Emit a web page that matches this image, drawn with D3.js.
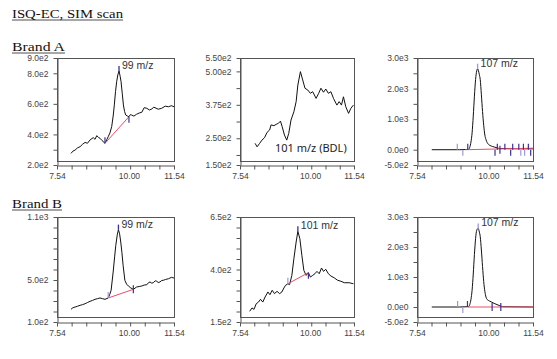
<!DOCTYPE html>
<meta charset="utf-8">
<script src="https://d3js.org/d3.v7.min.js"></script>
<style>
  body { margin: 0; background: #fff; }
  text { font-family: "Liberation Sans", Arial, sans-serif; }
</style>
<div id="chart"></div>
<script>
// shared x axis (retention time, min)
var xTicks = [7.54, 8.04, 8.54, 9.04, 9.54, 10.04, 10.54, 11.04, 11.54];
var xLabelVals = [7.54, 10.00, 11.54];
var xLabels = ["7.54", "10.00", "11.54"];

// Brand A, 99 m/z
var timeA1 = [8.02,8.08,8.16,8.24,8.33,8.41,8.50,8.58,8.67,8.78,8.84,8.90,8.96,9.01,9.08,9.18,9.24,9.29,9.35,9.41,9.46,9.50,9.54,9.58,9.62,9.66,9.70,9.73,9.77,9.81,9.85,9.89,9.95,10.00,10.05,10.09,10.17,10.26,10.35,10.44,10.52,10.61,10.70,10.78,10.84,10.89,11.00,11.12,11.24,11.35,11.45,11.54];
var sigA1 = [276,290,298,312,320,335,348,342,364,379,368,392,380,375,360,342,365,385,410,451,520,593,680,745,790,815,780,745,670,593,550,527,520,516,530,527,520,532,540,545,575,571,560,566,578,575,565,571,585,581,588,581];
var baseA1 = [[9.18, 342], [10.00, 516]];
var marksA1 = [[9.18, 342, "up", "d"], [10.00, 516, "down", "d"]];

// Brand A, 101 m/z (BDL)
var timeA2 = [8.07,8.14,8.23,8.31,8.40,8.49,8.58,8.63,8.73,8.81,8.89,8.96,9.02,9.10,9.18,9.25,9.33,9.43,9.51,9.57,9.66,9.74,9.82,9.92,10.01,10.09,10.21,10.30,10.38,10.47,10.55,10.64,10.73,10.82,10.94,11.02,11.10,11.17,11.25,11.35,11.43,11.52];
var sigA2 = [231,218,231,243,252,272,281,300,297,302,306,314,293,262,243,268,318,349,387,449,499,468,437,430,418,424,399,418,437,422,434,418,424,399,374,387,374,405,368,343,362,374];

// Brand A, 107 m/z
var timeA3 = [8.05,9.00,9.31,9.36,9.40,9.44,9.48,9.52,9.56,9.60,9.63,9.66,9.69,9.72,9.76,9.80,9.84,9.88,9.92,9.96,10.00,10.10,10.20,10.30,10.40,11.00,11.54];
var sigA3 = [0,0,10,80,250,550,1100,1750,2300,2580,2650,2580,2450,2300,1800,1250,800,480,330,230,180,120,90,60,40,30,30];
var baseA3 = [[9.20, 0], [11.54, 50]];
var marksA3 = [[8.93,0,"up","l"],[9.12,0,"down","l"],[9.29,0,"up","d"],[10.23,0,"down","d"],[10.31,0,"up","d"],[10.40,0,"cross","d"],[10.57,0,"up","d"],[10.77,0,"down","d"],[10.84,0,"up","d"],[11.05,0,"up","d"],[11.12,0,"down","l"],[11.21,0,"up","d"],[11.25,0,"down","l"],[11.38,0,"up","d"],[11.46,0,"down","d"]];

// Brand B, 99 m/z
var timeB1 = [8.02,8.08,8.16,8.24,8.33,8.41,8.50,8.58,8.67,8.75,8.84,8.92,9.01,9.10,9.18,9.29,9.34,9.39,9.46,9.51,9.55,9.60,9.64,9.68,9.72,9.76,9.80,9.86,9.92,9.98,10.06,10.15,10.26,10.35,10.44,10.52,10.61,10.67,10.72,10.78,10.83,10.90,10.95,11.00,11.06,11.12,11.17,11.25,11.35,11.45,11.54];
var sigB1 = [221,235,243,250,259,265,274,285,297,305,316,322,329,322,316,329,360,402,576,720,830,930,980,940,862,760,640,497,460,443,425,411,433,438,443,452,455,475,481,470,474,492,488,476,481,495,497,505,512,525,519];
var baseB1 = [[9.29, 329], [10.15, 411]];
var marksB1 = [[9.29, 329, "up", "l"], [10.15, 411, "cross", "d"]];

// Brand B, 101 m/z
var timeB2 = [7.88,7.96,8.03,8.11,8.19,8.26,8.34,8.42,8.52,8.59,8.67,8.75,8.84,8.93,9.01,9.08,9.14,9.22,9.28,9.36,9.43,9.51,9.57,9.64,9.71,9.78,9.86,9.94,10.01,10.09,10.17,10.24,10.32,10.40,10.47,10.55,10.64,10.73,10.85,10.96,11.08,11.20,11.37,11.52];
var sigB2 = [201,217,210,237,245,258,245,269,293,280,301,285,296,285,293,312,325,332,328,372,451,531,582,547,468,396,372,385,364,372,380,391,380,407,391,401,380,369,360,349,344,337,337,332];
var baseB2 = [[9.22, 332], [9.94, 385]];
var marksB2 = [[9.22, 332, "up", "l"], [9.94, 385, "down", "d"]];

// Brand B, 107 m/z
var timeB3 = [8.05,9.00,9.31,9.36,9.40,9.44,9.48,9.52,9.56,9.60,9.65,9.69,9.72,9.76,9.80,9.84,9.88,9.92,9.96,10.00,10.10,10.20,10.30,10.40,10.50,11.54];
var sigB3 = [0,0,10,80,250,560,1100,1750,2280,2560,2620,2500,2350,1900,1350,850,520,330,250,220,170,120,80,40,10,0];
var baseB3 = [[9.30, 0], [11.54, 0]];
var marksB3 = [[8.94,0,"up","l"],[9.12,0,"down","l"],[9.28,0,"up","d"],[10.13,0,"cross","d"],[10.43,0,"cross","d"]];

var panels = [
  {x0: 57, x1: 174, top: 58, fb: 161, ay: 165, dom: [200, 900], ticks: [200,300,400,500,600,700,800,900],
   labs: {900:"9.0e2", 800:"8.0e2", 600:"6.0e2", 400:"4.0e2", 200:"2.0e2"},
   t: timeA1, v: sigA1, base: baseA1, marks: marksA1, apex: [9.66, 815], apexCol: "d", name: "99 m/z"},
  {x0: 240, x1: 354, top: 58, fb: 161, ay: 165, dom: [150, 550], ticks: [150,187.5,250,312.5,375,437.5,500,550],
   labs: {550:"5.50e2", 500:"5.00e2", 375:"3.75e2", 250:"2.50e2", 150:"1.50e2"},
   t: timeA2, v: sigA2, base: null, marks: [], apex: null, bdl: "101 m/z (BDL)"},
  {x0: 417, x1: 533, top: 58, fb: 161, ay: 165, dom: [-500, 3000], ticks: [-500,0,500,1000,1500,2000,2500,3000],
   labs: {3000:"3.0e3", 2000:"2.0e3", 1000:"1.0e3", 0:"0.0e0", "-500":"-5.0e2"},
   t: timeA3, v: sigA3, base: baseA3, marks: marksA3, apex: [9.63, 2650], apexCol: "l", name: "107 m/z", smooth: true},
  {x0: 57, x1: 174, top: 217, fb: 317, ay: 322, dom: [100, 1100], ticks: [100,200,300,400,500,600,700,800,900,1000,1100],
   labs: {1100:"1.1e3", 500:"5.0e2", 100:"1.0e2"},
   t: timeB1, v: sigB1, base: baseB1, marks: marksB1, apex: [9.64, 980], apexCol: "d", name: "99 m/z"},
  {x0: 240, x1: 354, top: 217, fb: 317, ay: 322, dom: [150, 650], ticks: [150,200,250,300,350,400,450,500,550,600,650],
   labs: {650:"6.5e2", 400:"4.0e2", 150:"1.5e2"},
   t: timeB2, v: sigB2, base: baseB2, marks: marksB2, apex: [9.57, 582], apexCol: "d", name: "101 m/z"},
  {x0: 417, x1: 533, top: 217, fb: 317, ay: 322, dom: [-500, 3000], ticks: [-500,0,500,1000,1500,2000,2500,3000],
   labs: {3000:"3.0e3", 2000:"2.0e3", 1000:"1.0e3", 0:"0.0e0", "-500":"-5.0e2"},
   t: timeB3, v: sigB3, base: baseB3, marks: marksB3, apex: [9.65, 2620], apexCol: "l", name: "107 m/z", smooth: true}
];

var markCol = {d: "#3a2f9c", l: "#9c98e0"};

var svg = d3.select("#chart").append("svg")
  .attr("width", 557).attr("height", 359);

// headings
function heading(txt, x, y, len, size) {
  svg.append("text").attr("x", x).attr("y", y)
    .attr("textLength", len).attr("lengthAdjust", "spacingAndGlyphs")
    .style("font-family", "'Liberation Serif', 'Times New Roman', serif")
    .style("font-size", size + "px").attr("fill", "#111").text(txt);
  svg.append("line").attr("x1", x).attr("x2", x + len)
    .attr("y1", y + 2).attr("y2", y + 2).attr("stroke", "#222").attr("stroke-width", 0.8);
}
heading("ISQ-EC, SIM scan", 12, 18, 111, 12);
heading("Brand A", 12, 51, 53, 12.5);
heading("Brand B", 12, 208, 50, 12.5);

panels.forEach(function(p) {
  var x = d3.scaleLinear().domain([7.54, 11.54]).range([p.x0, p.x1]);
  var y = d3.scaleLinear().domain(p.dom).range([p.ay, p.top]);
  var g = svg.append("g");

  // frame
  g.append("rect").attr("x", p.x0 + 0.5).attr("y", p.top + 0.5)
    .attr("width", p.x1 - p.x0).attr("height", p.fb - p.top)
    .attr("fill", "none").attr("stroke", "#555").attr("stroke-width", 1);

  // axes
  var xa = g.append("g").attr("transform", "translate(0," + (p.ay + 0.5) + ")")
    .call(d3.axisBottom(x).tickValues(xTicks).tickSize(4).tickSizeOuter(0).tickFormat(""));
  g.append("g").attr("transform", "translate(0," + (p.ay + 0.5) + ")")
    .call(d3.axisBottom(x).tickValues(xLabelVals).tickSize(0).tickPadding(7)
      .tickFormat(function(d, i) { return xLabels[i]; }))
    .call(function(s) { s.select(".domain").remove(); });
  var ya = g.append("g").attr("transform", "translate(" + (p.x0 + 0.5) + ",0)")
    .call(d3.axisLeft(y).tickValues(p.ticks).tickSize(4).tickSizeOuter(0).tickPadding(5)
      .tickFormat(function(d) { return p.labs[d] || ""; }));
  [xa, ya].forEach(function(a) {
    a.selectAll("path,line").attr("stroke", "#555");
  });
  g.selectAll(".tick text").attr("fill", "#444").style("font-size", "8.5px");

  // chromatogram trace
  var line = d3.line()
    .x(function(d, i) { return x(p.t[i]); })
    .y(function(d) { return y(d); })
    .curve(p.smooth ? d3.curveMonotoneX : d3.curveLinear);
  g.append("path").datum(p.v).attr("d", line)
    .attr("fill", "none").attr("stroke", "#111").attr("stroke-width", 1);

  // peak baseline
  if (p.base) {
    g.append("line")
      .attr("x1", x(p.base[0][0])).attr("y1", y(p.base[0][1]))
      .attr("x2", x(p.base[1][0])).attr("y2", y(p.base[1][1]))
      .attr("stroke", "#ec4f66").attr("stroke-width", 1);
  }

  // delimiter marks
  p.marks.forEach(function(m) {
    var cy = y(m[1]);
    var y1 = m[2] == "up" ? cy - 6 : (m[2] == "down" ? cy : cy - 4);
    var y2 = m[2] == "up" ? cy : (m[2] == "down" ? cy + 6 : cy + 4);
    g.append("line").attr("x1", x(m[0])).attr("x2", x(m[0]))
      .attr("y1", y1).attr("y2", y2)
      .attr("stroke", markCol[m[3]]).attr("stroke-width", 1.2);
  });

  // apex mark and label
  if (p.apex) {
    var ax = x(p.apex[0]), ay = y(p.apex[1]);
    g.append("line").attr("x1", ax).attr("x2", ax).attr("y1", ay - 5).attr("y2", ay)
      .attr("stroke", markCol[p.apexCol]).attr("stroke-width", 1.3);
    g.append("text").attr("x", ax + 3).attr("y", ay - 2)
      .attr("fill", "#333").style("font-size", "10.5px").text(p.name);
  }
  if (p.bdl) {
    g.append("text").attr("x", 275).attr("y", 152)
      .style("font-family", "'Noto Sans', 'Open Sans', sans-serif")
      .attr("fill", "#222").style("font-size", "11px").text(p.bdl);
  }
});
</script>
